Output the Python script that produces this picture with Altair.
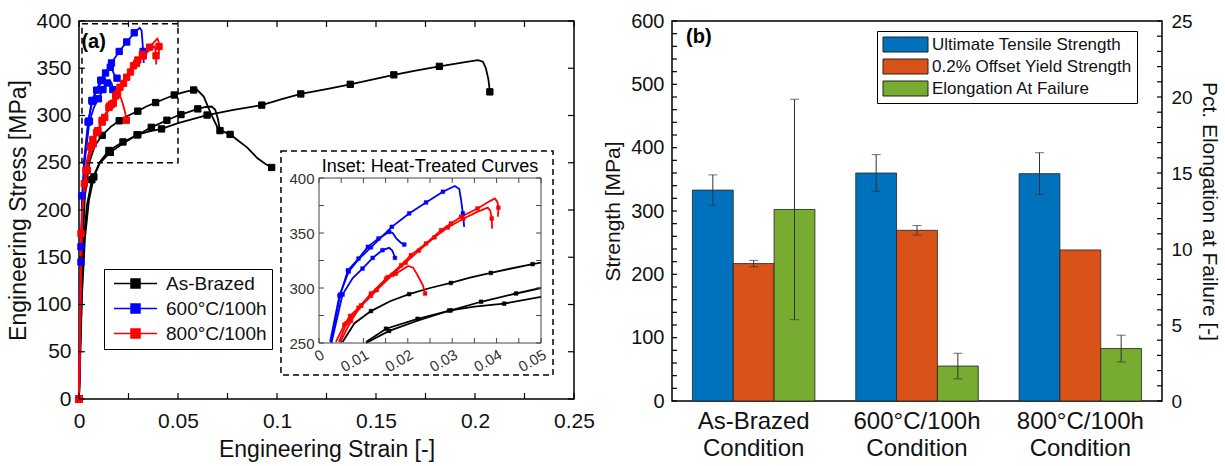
import altair as alt
import pandas as pd

FONT = "Liberation Sans"

# ---------------- Panel (a): engineering stress-strain curves ----------------
SERIES = ["As-Brazed", "600°C/100h", "800°C/100h"]
SERIES_COLORS = ["#000000", "#0000FF", "#FF0000"]

# As-Brazed specimens
AB1_strain = [0, 0.0015, 0.003, 0.0053, 0.008, 0.0117, 0.016, 0.0203, 0.025, 0.0297, 0.034, 0.0387, 0.043, 0.0481,
              0.05, 0.0535, 0.0579, 0.0595, 0.063, 0.067, 0.0705, 0.0763, 0.080, 0.085, 0.090, 0.094, 0.0973]
AB1_stress = [0, 150, 215, 251, 268, 279, 288, 294.4, 300, 304.6, 309.5, 313.7, 317.5, 321.7,
              323, 325, 327, 327.5, 320, 300, 285, 280, 274, 266, 255, 249, 245]
AB1_mark = [1, 0, 0, 0, 0, 1, 0, 1, 0, 1, 0, 1, 0, 1, 0, 0, 1, 0, 0, 0, 0, 1, 0, 0, 0, 0, 1]

AB2_strain = [0, 0.0015, 0.0025, 0.004, 0.0065, 0.0106, 0.0151, 0.0222, 0.0297, 0.0365, 0.0444, 0.05, 0.0515,
              0.060, 0.064, 0.067, 0.0688, 0.0702, 0.0712]
AB2_stress = [0, 120, 170, 205, 232, 251, 263, 272, 279.7, 287.5, 295, 300, 301, 307, 309, 309.5, 306, 296, 284]
AB2_mark = [1, 0, 0, 0, 1, 0, 1, 1, 1, 1, 1, 0, 1, 1, 0, 0, 0, 0, 1]

AB3_strain = [0, 0.0015, 0.003, 0.005, 0.0075, 0.0106, 0.0158, 0.022, 0.0293, 0.035, 0.0417, 0.05, 0.0647, 0.078,
              0.0923, 0.102, 0.112, 0.125, 0.137, 0.148, 0.159, 0.170, 0.182, 0.195, 0.2015, 0.204, 0.2055,
              0.2068, 0.2075]
AB3_stress = [0, 110, 170, 210, 235, 250, 261, 270, 279.5, 283, 285.8, 292, 300.5, 306, 311, 317, 322.8, 328, 333,
              338, 343, 347.5, 352, 356.5, 358.5, 357, 350, 338, 325]
AB3_mark = [1, 0, 0, 0, 1, 0, 1, 0, 1, 0, 1, 0, 1, 0, 1, 0, 1, 0, 1, 0, 1, 0, 1, 0, 0, 0, 0, 0, 1]

# 600C/100h specimens
HT6a_strain = [0, 0.001, 0.0025, 0.0046, 0.0067, 0.0089, 0.0117, 0.0164, 0.0203, 0.0241, 0.0279, 0.0306, 0.0316,
               0.032, 0.0324, 0.0327]
HT6a_stress = [0, 145, 251, 293, 315, 326, 337, 355.6, 367.8, 377.8, 387.5, 392.7, 390, 380, 367.8, 355.6]
HT6a_mark = [1, 1, 0, 1, 1, 0, 1, 1, 1, 1, 1, 0, 0, 0, 1, 0]

HT6b_strain = [0, 0.001, 0.0027, 0.0048, 0.0065, 0.0089, 0.011, 0.0121, 0.0134, 0.0158, 0.0166, 0.0174, 0.0185,
               0.0192]
HT6b_stress = [0, 161, 251, 294, 316, 326.8, 337.4, 341, 345, 351, 350, 345, 341, 339.5]
HT6b_mark = [1, 1, 0, 1, 1, 1, 1, 0, 1, 1, 0, 0, 0, 1]

HT6c_strain = [0, 0.0015, 0.0028, 0.0053, 0.0076, 0.0098, 0.0121, 0.0143, 0.0158, 0.0165, 0.0169, 0.0171]
HT6c_stress = [0, 215, 250, 294, 309, 317.7, 327.4, 334.4, 336.5, 334, 330, 327.4]
HT6c_mark = [1, 1, 0, 1, 0, 1, 1, 1, 0, 0, 0, 1]

# 800C/100h specimens
HT8a_strain = [0, 0.001, 0.0027, 0.0038, 0.0057, 0.007, 0.0089, 0.0117, 0.0151, 0.0185, 0.0207, 0.0241, 0.0275,
               0.0297, 0.032, 0.0357, 0.0385, 0.0396, 0.0402, 0.0404, 0.0403]
HT8a_stress = [0, 175, 228, 251, 266.7, 274.6, 282, 295, 308.5, 320.7, 329.9, 340.5, 352.6, 358.7, 364.8, 372.3,
               379, 381.4, 378, 373, 364.8]
HT8a_mark = [1, 1, 1, 0, 1, 1, 1, 1, 1, 1, 1, 1, 1, 1, 1, 1, 0, 0, 0, 1, 0]

HT8b_strain = [0, 0.0015, 0.0035, 0.0045, 0.0062, 0.0095, 0.013, 0.0165, 0.0195, 0.0225, 0.026, 0.029, 0.0325,
               0.0355, 0.038, 0.0386, 0.0389, 0.039]
HT8b_stress = [0, 190, 242, 251, 268, 284, 298, 312, 323, 334, 346, 355, 363, 369, 373, 370, 363.2, 354]
HT8b_mark = [1, 0, 1, 0, 1, 1, 1, 1, 1, 1, 1, 1, 1, 0, 0, 0, 1, 0]

HT8c_strain = [0, 0.0015, 0.0042, 0.0048, 0.0072, 0.0095, 0.0117, 0.0155, 0.0173, 0.0201, 0.0212, 0.0222, 0.0234,
               0.0239]
HT8c_stress = [0, 200, 242, 251, 270, 284, 293, 310, 313, 320, 318.5, 311.6, 302.5, 295]
HT8c_mark = [1, 0, 1, 0, 1, 1, 1, 1, 1, 0, 0, 0, 0, 1]

CURVES = [
    ("AB1", SERIES[0], AB1_strain, AB1_stress, AB1_mark),
    ("AB2", SERIES[0], AB2_strain, AB2_stress, AB2_mark),
    ("AB3", SERIES[0], AB3_strain, AB3_stress, AB3_mark),
    ("HT6a", SERIES[1], HT6a_strain, HT6a_stress, HT6a_mark),
    ("HT6b", SERIES[1], HT6b_strain, HT6b_stress, HT6b_mark),
    ("HT6c", SERIES[1], HT6c_strain, HT6c_stress, HT6c_mark),
    ("HT8a", SERIES[2], HT8a_strain, HT8a_stress, HT8a_mark),
    ("HT8b", SERIES[2], HT8b_strain, HT8b_stress, HT8b_mark),
    ("HT8c", SERIES[2], HT8c_strain, HT8c_stress, HT8c_mark),
]

# annotation boxes (main-axis data units): zoom region and inset frame
BOX_STRAIN = [0.0015, 0.102]
BOX_STRAIN2 = [0.05, 0.2394]
BOX_STRESS = [250, 25.4]
BOX_STRESS2 = [397, 262.4]

A_XLABELS = [0, 0.05, 0.1, 0.15, 0.2, 0.25]
A_YLABELS = [0, 50, 100, 150, 200, 250, 300, 350, 400]
A_XTICKS = [0, 0.025, 0.05, 0.075, 0.1, 0.125, 0.15, 0.175, 0.2, 0.225, 0.25]
A_YTICKS = [0, 50, 100, 150, 200, 250, 300, 350, 400]
IN_XLABELS = [0, 0.01, 0.02, 0.03, 0.04, 0.05]
IN_YLABELS = [250, 300, 350, 400]
IN_XTICKS = [0, 0.005, 0.01, 0.015, 0.02, 0.025, 0.03, 0.035, 0.04, 0.045, 0.05]
IN_YTICKS = [250, 275, 300, 325, 350, 375, 400]
INSET_TITLE = "Inset: Heat-Treated Curves"

# ---------------- Panel (b): bar chart ----------------
CONDITIONS = ["As-Brazed Condition", "600°C/100h Condition", "800°C/100h Condition"]
METRICS = ["Ultimate Tensile Strength", "0.2% Offset Yield Strength", "Elongation At Failure"]
METRIC_COLORS = ["#0072BD", "#D95319", "#77AC30"]
UTS_MPa = [333, 360, 359]
UTS_err = [24, 29, 33]
YS_MPa = [217, 269.5, 238.5]
YS_err = [5, 7.5, 0]
EL_pct = [12.6, 2.3, 3.45]
EL_err = [7.25, 0.84, 0.88]
B_LTICKS = list(range(0, 601, 20))
B_RTICKS = list(range(0, 26, 1))

# ---------------- build tables ----------------
rows = []
for cid, ser, s, t, m in CURVES:
    for i, (a, b, c) in enumerate(zip(s, t, m)):
        rows.append(dict(curve=cid, series=ser, idx=i, strain=a, stress=b, mark=c))
df_curves = pd.DataFrame(rows)

df_boxes = pd.DataFrame(dict(x=BOX_STRAIN, x2=BOX_STRAIN2, y=BOX_STRESS, y2=BOX_STRESS2))

tick_rows = []
for v in A_XTICKS:
    tick_rows.append(dict(x=v, x2=v, y=0, y2=6.3))
    tick_rows.append(dict(x=v, x2=v, y=400, y2=393.7))
for v in A_YTICKS:
    tick_rows.append(dict(x=0, x2=0.003, y=v, y2=v))
    tick_rows.append(dict(x=0.25, x2=0.247, y=v, y2=v))
df_ticksA = pd.DataFrame(tick_rows)

in_rows = []
for v in IN_XTICKS:
    in_rows.append(dict(x=v, x2=v, y=250, y2=254.5))
    in_rows.append(dict(x=v, x2=v, y=400, y2=395.5))
for v in IN_YTICKS:
    in_rows.append(dict(x=0, x2=0.0011, y=v, y2=v))
    in_rows.append(dict(x=0.05, x2=0.0489, y=v, y2=v))
df_ticksIn = pd.DataFrame(in_rows)

str_rows = []
for c, v, e in zip(CONDITIONS, UTS_MPa, UTS_err):
    str_rows.append(dict(condition=c, metric=METRICS[0], value=v, err=e))
for c, v, e in zip(CONDITIONS, YS_MPa, YS_err):
    str_rows.append(dict(condition=c, metric=METRICS[1], value=v, err=e))
df_str = pd.DataFrame(str_rows)
df_el = pd.DataFrame(dict(condition=CONDITIONS, metric=[METRICS[2]] * 3, value=EL_pct, err=EL_err))

# ---------------- panel (a) ----------------
W_A, H_A = 495, 378
serScale = alt.Scale(domain=SERIES, range=SERIES_COLORS)


def xA():
    return alt.Scale(domain=[0, 0.25], nice=False, zero=False)


def yA():
    return alt.Scale(domain=[0, 400], nice=False, zero=False)


def xI():
    return alt.Scale(domain=[0, 0.05], range=[240, 462], nice=False, zero=False)


def yI():
    return alt.Scale(domain=[250, 400], range=[322, 157], nice=False, zero=False)


legA = alt.Legend(
    title=None, orient="none", legendX=25, legendY=248,
    symbolType="M-1,0H8.56M2.78,-1H4.78V1H2.78Z",
    symbolSize=81, symbolStrokeWidth=1.5, labelFontSize=19, labelFont=FONT, labelColor="#111",
    strokeColor="black", fillColor="white", padding=5, rowPadding=5, labelOffset=38, labelLimit=300,
)

axA_x = alt.Axis(orient="bottom", values=A_XLABELS, format="~g", title="Engineering Strain [-]", labelFontSize=21,
                 titleFontSize=23, labelPadding=11, titlePadding=7, ticks=False, domain=False, grid=False,
                 labelFlush=False)
axA_y = alt.Axis(orient="left", values=A_YLABELS, title="Engineering Stress [MPa]", labelFontSize=21,
                 titleFontSize=23, labelPadding=8, titlePadding=5, ticks=False, domain=False, grid=False)

base_curves = alt.Chart(df_curves)
main_lines = base_curves.mark_line(strokeWidth=1.8).encode(
    x=alt.X("strain:Q", scale=xA(), axis=axA_x),
    y=alt.Y("stress:Q", scale=yA(), axis=axA_y),
    detail="curve:N",
    order="idx:Q",
    stroke=alt.Stroke("series:N", scale=serScale, legend=legA),
)
main_pts = base_curves.transform_filter("datum.mark == 1").mark_point(
    shape="square", filled=True, size=40, opacity=1, strokeWidth=1).encode(
    x=alt.X("strain:Q", scale=xA(), axis=None),
    y=alt.Y("stress:Q", scale=yA(), axis=None),
    fill=alt.Fill("series:N", scale=serScale, legend=legA),
    stroke=alt.Stroke("series:N", scale=serScale, legend=legA),
)
boxes = alt.Chart(df_boxes).mark_rect(fillOpacity=0, stroke="black", strokeWidth=1.5, strokeDash=[6, 4]).encode(
    x=alt.X("x:Q", scale=xA(), axis=None), x2="x2:Q",
    y=alt.Y("y:Q", scale=yA(), axis=None), y2="y2:Q",
)
ticksA = alt.Chart(df_ticksA).mark_rule(color="black", strokeWidth=1.2).encode(
    x=alt.X("x:Q", scale=xA(), axis=None), x2="x2:Q",
    y=alt.Y("y:Q", scale=yA(), axis=None), y2="y2:Q",
)
label_a = alt.Chart(pd.DataFrame({"t": ["(a)"]})).mark_text(
    fontSize=20, fontWeight="bold", font=FONT, align="left", baseline="middle").encode(
    x=alt.XDatum(0.0012, scale=xA(), axis=None), y=alt.YDatum(378, scale=yA(), axis=None), text="t:N")

# inset (same curves, zoomed) -- scale ranges place it inside panel (a)
axI_x = alt.Axis(orient="bottom", offset=-(H_A - 322), values=IN_XLABELS, format="~g", labelAngle=330,
                 labelAlign="right", labelBaseline="top", labelPadding=4, labelFontSize=15, ticks=False,
                 domain=False, grid=False, title=None, labelFlush=False, labelOverlap=False, labelColor="#333")
axI_y = alt.Axis(orient="left", offset=-240, values=IN_YLABELS, labelFontSize=15, labelPadding=5, ticks=False,
                 domain=False, grid=False, title=None, labelColor="#333")

inset_data = base_curves.transform_filter("datum.strain <= 0.0501 && datum.stress >= 249")
in_lines = inset_data.mark_line(strokeWidth=1.8).encode(
    x=alt.X("strain:Q", scale=xI(), axis=axI_x),
    y=alt.Y("stress:Q", scale=yI(), axis=axI_y),
    detail="curve:N",
    order="idx:Q",
    stroke=alt.Stroke("series:N", scale=serScale, legend=None),
)
in_pts = inset_data.transform_filter("datum.mark == 1").mark_point(
    shape="square", filled=True, size=14, opacity=1, strokeWidth=0.5).encode(
    x=alt.X("strain:Q", scale=xI(), axis=None),
    y=alt.Y("stress:Q", scale=yI(), axis=None),
    fill=alt.Fill("series:N", scale=serScale, legend=None),
    stroke=alt.Stroke("series:N", scale=serScale, legend=None),
)
in_frame = alt.Chart(pd.DataFrame({"x": [0], "x2": [0.05], "y": [250], "y2": [400]})).mark_rect(
    fillOpacity=0, stroke="#444", strokeWidth=1).encode(
    x=alt.X("x:Q", scale=xI(), axis=None), x2="x2:Q",
    y=alt.Y("y:Q", scale=yI(), axis=None), y2="y2:Q",
)
in_ticks = alt.Chart(df_ticksIn).mark_rule(color="#444", strokeWidth=1).encode(
    x=alt.X("x:Q", scale=xI(), axis=None), x2="x2:Q",
    y=alt.Y("y:Q", scale=yI(), axis=None), y2="y2:Q",
)
in_title = alt.Chart(pd.DataFrame({"t": [INSET_TITLE]})).mark_text(
    fontSize=18, font=FONT, align="center", baseline="bottom", dy=-2).encode(
    x=alt.XDatum(0.025, scale=xI(), axis=None), y=alt.YDatum(400, scale=yI(), axis=None), text="t:N")

panelA = alt.layer(
    main_lines, main_pts, boxes, ticksA, label_a, in_lines, in_pts, in_frame, in_ticks, in_title
).resolve_scale(x="independent", y="independent").properties(width=W_A, height=H_A)

# ---------------- panel (b) ----------------
W_B, H_B = 490, 380
metScale = alt.Scale(domain=METRICS, range=METRIC_COLORS)
axB_x = alt.Axis(orient="bottom", labelExpr="split(datum.label, ' ')", labelAngle=0, labelFontSize=24,
                 labelLineHeight=27, labelPadding=8, ticks=False, domain=False, title=None, labelColor="#111")
xB = alt.X("condition:N", sort=CONDITIONS, scale=alt.Scale(domain=CONDITIONS, paddingInner=0, paddingOuter=0),
           axis=axB_x)
xoB = alt.XOffset("metric:N", sort=METRICS, scale=alt.Scale(domain=METRICS, paddingInner=0, paddingOuter=0.5))


def yBL():
    return alt.Scale(domain=[0, 600], nice=False, zero=True)


def yBR():
    return alt.Scale(domain=[0, 25], nice=False, zero=True)


legB = alt.Legend(
    title=None, orient="none", legendX=205, legendY=10,
    symbolType="M-1,-1H5V1H-1Z", symbolSize=225,
    symbolStrokeColor="#222", symbolStrokeWidth=1, labelFontSize=17, labelFont=FONT, labelColor="#111",
    strokeColor="black", fillColor="white", padding=5, rowPadding=3, labelOffset=33, labelLimit=400,
)

axBL = alt.Axis(orient="left", values=list(range(0, 601, 100)), title="Strength [MPa]", labelFontSize=20,
                titleFontSize=21, labelPadding=8, titlePadding=7, ticks=False, domain=False, grid=False)
axBR = alt.Axis(orient="right", values=[0, 5, 10, 15, 20, 25], title="Pct. Elongation at Failure [-]",
                labelFontSize=19, titleFontSize=21, labelPadding=9, titlePadding=6, ticks=False, domain=False,
                grid=False)

bars1 = alt.Chart(df_str).mark_bar(stroke="#222", strokeWidth=0.8).encode(
    x=xB, xOffset=xoB,
    y=alt.Y("value:Q", scale=yBL(), axis=axBL),
    color=alt.Color("metric:N", scale=metScale, legend=legB),
)
err_base1 = alt.Chart(df_str).transform_filter("datum.err > 0").transform_calculate(
    lo="datum.value - datum.err", hi="datum.value + datum.err")
err1 = err_base1.mark_rule(color="#333", strokeWidth=1).encode(
    x=xB, xOffset=xoB, y=alt.Y("lo:Q", scale=yBL(), axis=None), y2="hi:Q")
cap1a = err_base1.mark_tick(color="#333", thickness=1, size=9).encode(
    x=xB, xOffset=xoB, y=alt.Y("lo:Q", scale=yBL(), axis=None))
cap1b = err_base1.mark_tick(color="#333", thickness=1, size=9).encode(
    x=xB, xOffset=xoB, y=alt.Y("hi:Q", scale=yBL(), axis=None))
ticksL = alt.Chart(pd.DataFrame({"v": B_LTICKS})).mark_rule(color="black", strokeWidth=1.2).encode(
    y=alt.Y("v:Q", scale=yBL(), axis=None), x=alt.value(0), x2=alt.value(5))
label_b = alt.Chart(pd.DataFrame({"t": ["(b)"]})).mark_text(
    fontSize=20, fontWeight="bold", font=FONT, align="left", baseline="middle").encode(
    x=alt.value(14), y=alt.YDatum(575, scale=yBL(), axis=None), text="t:N")

bars2 = alt.Chart(df_el).mark_bar(stroke="#222", strokeWidth=0.8).encode(
    x=xB, xOffset=xoB,
    y=alt.Y("value:Q", scale=yBR(), axis=axBR),
    color=alt.Color("metric:N", scale=metScale, legend=legB),
)
err_base2 = alt.Chart(df_el).transform_calculate(lo="datum.value - datum.err", hi="datum.value + datum.err")
err2 = err_base2.mark_rule(color="#333", strokeWidth=1).encode(
    x=xB, xOffset=xoB, y=alt.Y("lo:Q", scale=yBR(), axis=None), y2="hi:Q")
cap2a = err_base2.mark_tick(color="#333", thickness=1, size=9).encode(
    x=xB, xOffset=xoB, y=alt.Y("lo:Q", scale=yBR(), axis=None))
cap2b = err_base2.mark_tick(color="#333", thickness=1, size=9).encode(
    x=xB, xOffset=xoB, y=alt.Y("hi:Q", scale=yBR(), axis=None))
ticksR = alt.Chart(pd.DataFrame({"v": B_RTICKS})).mark_rule(color="black", strokeWidth=1.2).encode(
    y=alt.Y("v:Q", scale=yBR(), axis=None), x=alt.value(W_B), x2=alt.value(W_B - 5))

panelB = alt.layer(
    bars1, err1, cap1a, cap1b, ticksL, label_b, bars2, err2, cap2a, cap2b, ticksR
).resolve_scale(y="independent").properties(width=W_B, height=H_B)

chart = alt.hconcat(panelA, panelB, spacing=5).resolve_scale(
    color="independent", fill="independent", stroke="independent"
).properties(
    padding={"left": 7, "top": 9, "right": 5, "bottom": 0}
).configure_view(
    stroke="black", strokeWidth=1.5
).configure_axis(
    labelFont=FONT, titleFont=FONT, labelColor="#111", titleColor="#111", titleFontWeight="normal"
).configure_legend(
    labelFont=FONT
).configure_text(font=FONT)

chart.save("out.html", embed_options={"renderer": "svg", "actions": False})
